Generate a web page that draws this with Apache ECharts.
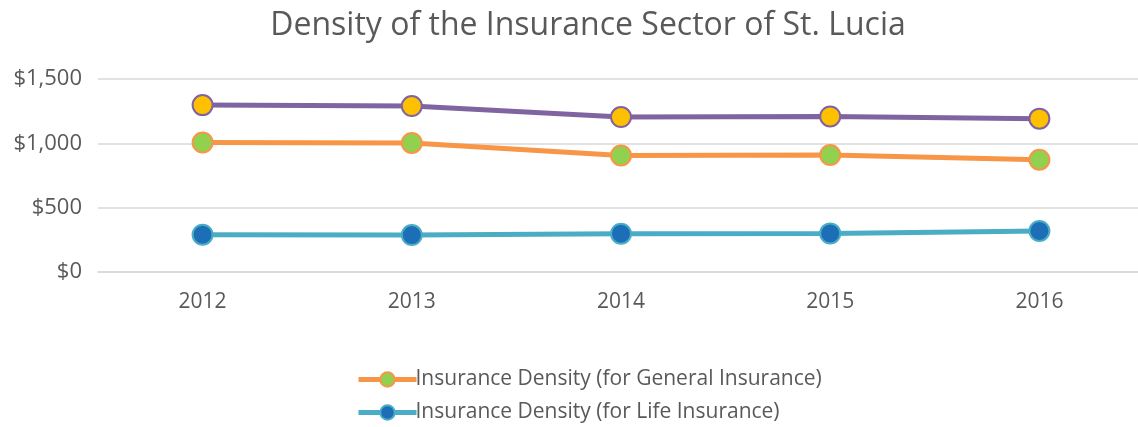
<!DOCTYPE html>
<html>
<head>
<meta charset="utf-8">
<script src="https://cdn.jsdelivr.net/npm/echarts@6/dist/echarts.min.js"></script>
<style>
  html, body { margin: 0; padding: 0; background: #fff; overflow: hidden; }
  #chart { width: 1146px; height: 450px; }
</style>
</head>
<body>
<div id="chart"></div>
<script>
const years = ['2012', '2013', '2014', '2015', '2016']
const totalDensity = [1297, 1290, 1204, 1209, 1192]
const generalDensity = [1007, 1003, 906, 909, 873]
const lifeDensity = [290, 287, 298, 300, 319]
const yTicks = { min: 0, max: 1500, interval: 500 }

const textColor = '#595959'
const fontFamily = 'Open Sans, sans-serif'

const lineSeries = (name, data, lineColor, fillColor) => ({
  name,
  type: 'line',
  data,
  symbol: 'circle',
  symbolSize: 20,
  lineStyle: { color: lineColor, width: 5 },
  itemStyle: { color: fillColor, borderColor: lineColor, borderWidth: 2 },
  emphasis: { disabled: true },
  z: 2
})

const chart = echarts.init(document.getElementById('chart'))
chart.setOption({
  animation: false,
  title: {
    text: 'Density of the Insurance Sector of St. Lucia',
    left: 583,
    textAlign: 'center',
    top: 5,
    textStyle: { color: textColor, fontSize: 32, fontWeight: 'normal', fontFamily }
  },
  grid: { left: 98, right: 2, top: 79, height: 193, containLabel: false },
  legend: {
    data: ['Insurance Density (for General Insurance)', 'Insurance Density (for Life Insurance)'],
    orient: 'vertical',
    left: 351,
    top: 364,
    itemGap: 12,
    itemWidth: 58,
    itemHeight: 18,
    lineStyle: { width: 5 },
    textStyle: { color: textColor, fontSize: 21, fontFamily, padding: [0, 0, 0, -6] }
  },
  xAxis: {
    type: 'category',
    data: years,
    axisLine: { lineStyle: { color: '#D9D9D9', width: 1.5 } },
    axisTick: { show: false },
    axisLabel: { color: textColor, fontSize: 21, fontFamily, margin: 20 }
  },
  yAxis: {
    type: 'value',
    min: yTicks.min,
    max: yTicks.max,
    interval: yTicks.interval,
    axisLine: { show: false },
    axisTick: { show: false },
    splitLine: { lineStyle: { color: '#D9D9D9', width: 1.5 } },
    axisLabel: {
      color: textColor, fontSize: 22, fontFamily, margin: 16,
      formatter: v => '$' + v.toLocaleString('en-US')
    }
  },
  series: [
    lineSeries('Insurance Density (for General Insurance)', generalDensity, '#F79646', '#92D050'),
    lineSeries('Insurance Density (for Life Insurance)', lifeDensity, '#4BACC6', '#1C6FB6'),
    lineSeries('Total Insurance Density', totalDensity, '#8064A2', '#FFC000')
  ]
})
</script>
</body>
</html>
